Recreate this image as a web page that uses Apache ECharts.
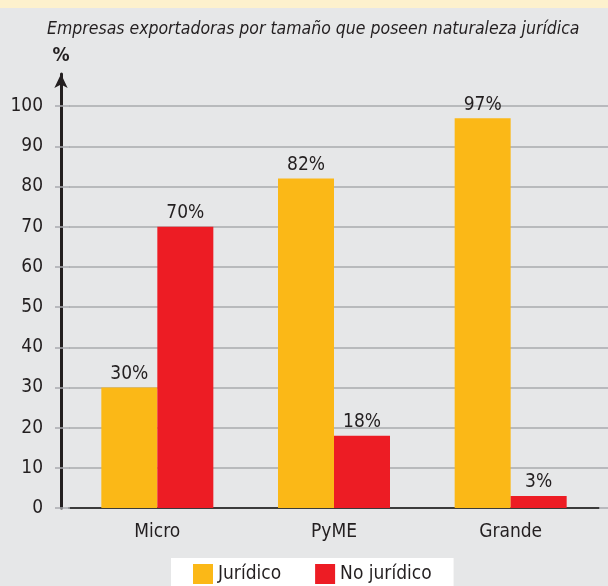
<!DOCTYPE html>
<html>
<head>
<meta charset="utf-8">
<script src="https://cdn.jsdelivr.net/npm/echarts@6/dist/echarts.min.js"></script>
<style>
  html, body { margin: 0; padding: 0; background: #e6e7e8; }
  #chart { width: 608px; height: 586px; }
</style>
</head>
<body>
<div id="chart"></div>
<script>
var categories = ['Micro', 'PyME', 'Grande'];
var juridico = [30, 82, 97];
var noJuridico = [70, 18, 3];
var yTicks = [0, 10, 20, 30, 40, 50, 60, 70, 80, 90, 100];

var FONT = '"Liberation Sans Narrow", "DejaVu Sans Condensed", sans-serif';
var INK = '#231f20';
var GRID = '#a9abae';

var chart = echarts.init(document.getElementById('chart'));

// ejes auxiliares solo para prolongar las lineas de la cuadricula
function helperAxis(pos, offset, inside, len) {
  return {
    type: 'value', position: pos, offset: offset,
    min: 0, max: 108, interval: 10,
    axisLine: { show: false },
    axisLabel: { show: false },
    splitLine: { show: false },
    axisTick: { show: true, inside: inside, length: len, customValues: yTicks,
      lineStyle: { color: GRID, width: 1.5 } }
  };
}

var option = {
  backgroundColor: '#e6e7e8',
  textStyle: { fontFamily: FONT, color: INK },
  graphic: [{
    type: 'rect', left: 0, top: 0,
    shape: { width: 608, height: 8 },
    style: { fill: '#fdf1cd' }
  }],
  title: {
    text: 'Empresas exportadoras por tamaño que poseen naturaleza jurídica',
    left: 42, top: 15,
    textStyle: { fontFamily: FONT, fontStyle: 'italic', fontWeight: 'normal', fontSize: 17.5, color: INK }
  },
  legend: {
    data: ['Jurídico', 'No jurídico'],
    left: 171, top: 558,
    icon: 'rect', itemWidth: 20, itemHeight: 20, itemGap: 34,
    backgroundColor: '#ffffff',
    padding: [6, 22, 8, 22],
    textStyle: { fontFamily: FONT, fontSize: 19, color: INK }
  },
  grid: { left: 69, right: 9, top: 74, bottom: 78 },
  xAxis: {
    type: 'category',
    data: categories,
    axisLine: { lineStyle: { color: '#3b3b3b', width: 2 } },
    axisTick: { show: false },
    axisLabel: { fontFamily: FONT, fontSize: 19, color: INK, margin: 15 }
  },
  yAxis: [{
    type: 'value', position: 'left', offset: 8,
    min: 0, max: 108, interval: 10,
    name: '%', nameLocation: 'end', nameGap: 8,
    nameTextStyle: { fontFamily: FONT, fontWeight: 'bold', fontSize: 19, color: INK },
    axisLine: { show: true, symbol: ['none', 'arrow'], symbolSize: [10, 14],
      lineStyle: { color: INK, width: 3 } },
    axisTick: { show: true, length: 6, customValues: yTicks, lineStyle: { color: GRID, width: 1.5 } },
    axisLabel: { fontFamily: FONT, fontSize: 19, color: INK, margin: 18, customValues: yTicks },
    splitLine: { show: true, lineStyle: { color: GRID, width: 1.5 } }
  },
    helperAxis('left', 8, true, 9),
    helperAxis('right', 0, false, 10)
  ],
  series: [{
    name: 'Jurídico', type: 'bar', data: juridico,
    barWidth: 56, barGap: '0%',
    itemStyle: { color: '#fbb817' },
    label: { show: true, position: 'top', distance: 4, formatter: '{c}%',
      fontFamily: FONT, fontSize: 19, color: INK }
  }, {
    name: 'No jurídico', type: 'bar', data: noJuridico,
    barWidth: 56,
    itemStyle: { color: '#ed1c24' },
    label: { show: true, position: 'top', distance: 4, formatter: '{c}%',
      fontFamily: FONT, fontSize: 19, color: INK }
  }]
};

chart.setOption(option);
</script>
</body>
</html>
